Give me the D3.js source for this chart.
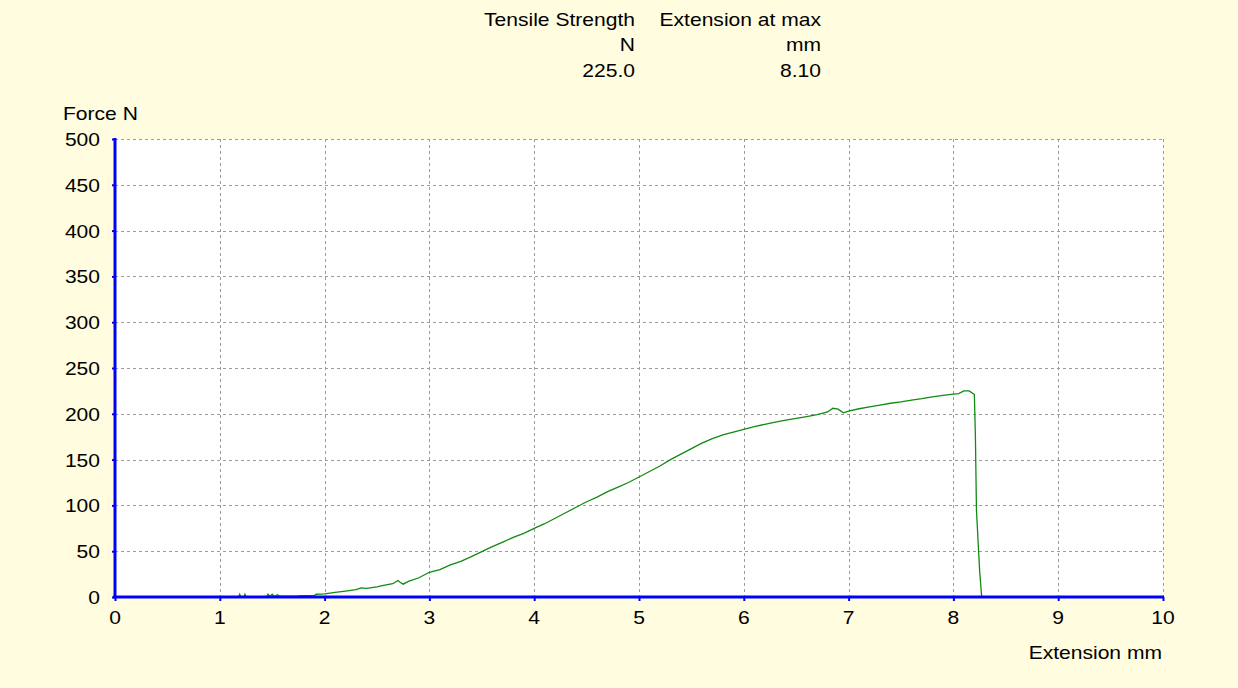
<!DOCTYPE html>
<html>
<head>
<meta charset="utf-8">
<script src="https://cdn.jsdelivr.net/npm/d3@7"></script>
<style>
  html, body { margin: 0; padding: 0; background: #fffcdf; }
  svg { display: block; }
  text { font-family: "Liberation Sans", Arial, sans-serif; font-size: 18px; fill: #000; }
</style>
</head>
<body>
<svg id="chart" width="1238" height="688"></svg>
<script>
// Tensile test result: extension (mm) vs. force (N)
const extension = [0, 1.18, 1.19, 1.2, 1.23, 1.24, 1.25, 1.4, 1.45, 1.46, 1.48, 1.5, 1.52, 1.55, 1.57, 1.6,
  1.75, 1.76, 1.9, 1.92, 2.0, 2.1, 2.2, 2.3, 2.35, 2.4, 2.5, 2.55, 2.6, 2.65, 2.7, 2.72, 2.75, 2.8, 2.9,
  3.0, 3.1, 3.2, 3.3, 3.4, 3.5, 3.6, 3.7, 3.8, 3.9, 4.0, 4.1, 4.2, 4.3, 4.4, 4.5, 4.6, 4.7, 4.8, 4.9,
  5.0, 5.1, 5.2, 5.3, 5.4, 5.5, 5.6, 5.7, 5.8, 5.9, 6.0, 6.1, 6.2, 6.3, 6.4, 6.5, 6.6, 6.7, 6.8, 6.85,
  6.9, 6.95, 7.0, 7.1, 7.2, 7.3, 7.4, 7.5, 7.6, 7.7, 7.8, 7.9, 8.0, 8.05, 8.1, 8.15, 8.19, 8.2, 8.21,
  8.22, 8.24, 8.25, 8.27, 8.4];
const force = [0, 0, 3, 0, 0, 3, 0, 0, 0.5, 3, 0.5, 3, 0.5, 2.5, 1, 1,
  1, 1.5, 1.5, 3, 3.5, 5, 6.5, 8, 10, 9.5, 11, 12.5, 13.5, 14.5, 18, 16, 14, 17, 21,
  27, 30, 35, 39, 44, 49.5, 55, 60, 65, 69.5, 75, 80, 86, 92, 98, 104, 109, 115, 120, 125,
  131, 137, 143, 150, 156, 162, 168, 173, 177, 180, 183, 186, 188.5, 191, 193, 195, 197, 199, 202, 206,
  205, 201, 203, 205.5, 207.5, 209.5, 211.5, 213, 215, 216.5, 218.5, 220, 221.5, 222, 225, 225, 222, 221, 175,
  95, 51, 29, 0, 0];

const xTicks = [0, 1, 2, 3, 4, 5, 6, 7, 8, 9, 10];
const yTicks = [0, 50, 100, 150, 200, 250, 300, 350, 400, 450, 500];

// Result table shown above the plot
const resultNames = ["Tensile Strength", "Extension at max"];
const resultUnits = ["N", "mm"];
const resultValues = ["225.0", "8.10"];

const svg = d3.select("#chart");
const margin = { left: 115, right: 1163, top: 139, bottom: 597 };
const stretch = 1.17; // horizontal glyph stretch of the instrument's font

const x = d3.scaleLinear().domain([0, 10]).range([margin.left, margin.right]);
const y = d3.scaleLinear().domain([0, 500]).range([margin.bottom, margin.top]);

function label(sel, tx, ty, anchor, str) {
  return sel.append("text")
    .attr("transform", `translate(${tx},${ty}) scale(${stretch},1)`)
    .attr("text-anchor", anchor)
    .text(str);
}

// plot background
svg.append("rect")
  .attr("x", margin.left).attr("y", margin.top)
  .attr("width", margin.right - margin.left).attr("height", margin.bottom - margin.top)
  .attr("fill", "#ffffff");

// dashed grid
const grid = svg.append("g").attr("stroke", "#9c9c9c").attr("stroke-width", 1).attr("stroke-dasharray", "3,3");
grid.selectAll("line.v").data(xTicks.slice(1)).join("line")
  .attr("x1", d => Math.round(x(d)) + 0.5).attr("x2", d => Math.round(x(d)) + 0.5)
  .attr("y1", margin.top).attr("y2", margin.bottom);
grid.selectAll("line.h").data(yTicks.slice(1)).join("line")
  .attr("y1", d => Math.round(y(d)) + 0.5).attr("y2", d => Math.round(y(d)) + 0.5)
  .attr("x1", margin.left).attr("x2", margin.right);

// force-extension curve
const line = d3.line().x((d, i) => x(extension[i])).y((d, i) => y(force[i]));
svg.append("path")
  .datum(force)
  .attr("d", line)
  .attr("fill", "none")
  .attr("stroke", "#118a11")
  .attr("stroke-width", 1.3);

// axes
const xAxis = d3.axisBottom(x).tickValues(xTicks).tickSize(4).tickFormat("");
const yAxis = d3.axisLeft(y).tickValues(yTicks).tickSize(3).tickFormat("");
const gx = svg.append("g").attr("transform", `translate(0,${margin.bottom})`).call(xAxis);
const gy = svg.append("g").attr("transform", `translate(${margin.left},0)`).call(yAxis);
[gx, gy].forEach(g => {
  g.select(".domain").attr("stroke", "#0000ff").attr("stroke-width", 3);
  g.selectAll(".tick line").attr("stroke", "#0000ff").attr("stroke-width", 2);
});
gx.select(".domain").attr("d", `M${margin.left - 2},0H${margin.right + 1}`);
gy.select(".domain").attr("d", `M0,${margin.bottom + 1}V${margin.top - 1}`);

// tick labels
xTicks.forEach(t => label(svg, x(t), 624, "middle", t));
yTicks.forEach(t => label(svg, 100, y(t) + 7, "end", t));

// axis titles
label(svg, 63, 120, "start", "Force N");
label(svg, 1162, 659, "end", "Extension mm");

// results table
const colRight = [635, 821];
resultNames.forEach((n, i) => {
  label(svg, colRight[i], 26, "end", n);
  label(svg, colRight[i], 51, "end", resultUnits[i]);
  label(svg, colRight[i], 77, "end", resultValues[i]);
});
</script>
</body>
</html>
